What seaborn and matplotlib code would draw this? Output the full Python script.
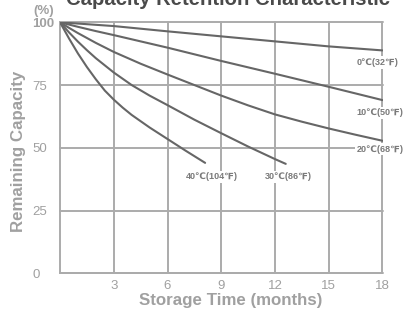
import matplotlib
matplotlib.use("Agg")
import matplotlib.pyplot as plt
import seaborn as sns
import pandas as pd

# ---- data ----
months_0c = [0, 1, 2, 3, 6, 9, 12, 15, 18]
cap_0c = [100, 99.5, 99.0, 98.5, 96.4, 94.4, 92.4, 90.4, 88.8]

months_10c = [0, 1, 2, 3, 4.5, 6, 9, 12, 15, 18]
cap_10c = [100, 98.2, 96.5, 94.9, 92.4, 89.9, 84.6, 79.5, 74.3, 69.0]

months_20c = [0, 0.5, 1, 2, 3, 4.5, 6, 7.5, 9, 10.5, 12, 13.5, 15, 16.5, 18]
cap_20c = [100, 97.8, 95.7, 91.8, 88.2, 83.5, 79.2, 75.0, 70.8, 66.9, 63.3, 60.4, 57.7, 55.2, 52.8]

months_30c = [0, 0.5, 1, 1.5, 2, 3, 4, 5, 6, 7.5, 9, 10.5, 12, 12.6]
cap_30c = [100, 96.0, 92.3, 88.9, 85.7, 80.0, 75.0, 70.8, 67.0, 61.2, 55.8, 50.5, 45.5, 43.6]

months_40c = [0, 0.5, 1, 1.5, 2, 2.5, 3, 3.5, 4, 5, 6, 7, 8.1]
cap_40c = [100, 93.6, 87.6, 82.2, 77.3, 72.8, 69.2, 66.0, 63.1, 58.1, 53.5, 48.9, 44.0]

series_names = ["0℃(32℉)", "10℃(50℉)", "20℃(68℉)", "30℃(86℉)", "40℃(104℉)"]
label_x = [17.75, 17.85, 17.85, 12.75, 8.5]
label_y = [84.0, 64.0, 49.4, 38.4, 38.4]

x_ticks = [3, 6, 9, 12, 15, 18]
y_ticks = [0, 25, 50, 75, 100]

title = "Capacity Retention Characteristic"
x_label = "Storage Time (months)"
y_label = "Remaining Capacity"
unit_label = "(%)"

# ---- build long table ----
frames = []
for name, m, c in zip(series_names,
                      [months_0c, months_10c, months_20c, months_30c, months_40c],
                      [cap_0c, cap_10c, cap_20c, cap_30c, cap_40c]):
    frames.append(pd.DataFrame({"month": m, "capacity": c, "series": name}))
df = pd.concat(frames, ignore_index=True)

sns.set_theme(style="white")
plt.rcParams["font.family"] = ["Liberation Sans", "DejaVu Sans"]

GRID = "#ababab"
LINE = "#666666"
TXT = "#a0a0a0"

fig = plt.figure(figsize=(4.04, 3.15), dpi=100)
ax = fig.add_axes([60 / 404, 1 - 273.3 / 315, (382.5 - 60) / 404, (273.3 - 22.3) / 315])

sns.lineplot(data=df, x="month", y="capacity", hue="series",
             palette=[LINE] * len(series_names), estimator=None,
             legend=False, linewidth=1.5, ax=ax, zorder=3)
for ln in ax.get_lines():
    ln.set_solid_joinstyle("round")

ax.set_xlim(0, 18)
ax.set_ylim(0, 100)
ax.set_xticks(x_ticks)
ax.set_yticks(y_ticks)
ax.set_xticklabels([str(t) for t in x_ticks])
ax.set_yticklabels([str(t) for t in y_ticks])
ax.grid(True, color=GRID, linewidth=1.4)
for gl in ax.xaxis.get_gridlines() + ax.yaxis.get_gridlines():
    gl.set_clip_on(False)
ax.set_axisbelow(True)
for s in ["top", "right"]:
    ax.spines[s].set_visible(False)
for s in ["left", "bottom"]:
    ax.spines[s].set_color(GRID)
    ax.spines[s].set_linewidth(1.4)

ax.tick_params(axis="both", length=0, labelsize=9.5, labelcolor=TXT)
ax.tick_params(axis="x", pad=5)
ax.tick_params(axis="y", pad=20)
for lab in ax.get_yticklabels():
    lab.set_horizontalalignment("left")
ax.get_yticklabels()[-1].set_fontweight("bold")

ax.set_xlabel("")
ax.set_ylabel("")

for name, lx, ly in zip(series_names, label_x, label_y):
    ax.text(lx, ly, name, ha="center", va="center", fontsize=6.5,
            fontweight="bold", color="#7a7a7a", zorder=5,
            family=["Liberation Sans", "DejaVu Sans"],
            bbox=dict(facecolor="white", edgecolor="none", pad=1.2))

fig.text(231 / 404, 1 - 300 / 315, x_label, ha="center", va="center",
         fontsize=12.2, fontweight="bold", color=TXT)
fig.text(19 / 404, 1 - 151 / 315, y_label, ha="center", va="center",
         rotation=90, fontsize=12.2, fontweight="bold", color=TXT)
fig.text(33 / 404, 1 - 11 / 315, unit_label, ha="left", va="center",
         fontsize=9.5, fontweight="bold", color=TXT)
fig.text(228 / 404, 1 - 5 / 315, title, ha="center", va="baseline",
         fontsize=14.6, fontweight="bold", color="#4a4a4a")

fig.savefig("out.png", dpi=100, facecolor="white")
